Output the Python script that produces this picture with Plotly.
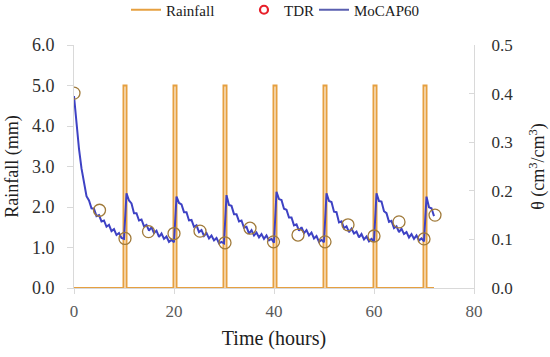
import plotly.graph_objects as go

# ---------------- data ----------------
step_h = 0.5
mocap60 = [
    0.395, 0.338, 0.286, 0.246, 0.217, 0.189, 0.180, 0.164, 0.163, 0.148,
    0.150, 0.137, 0.139, 0.126, 0.130, 0.117, 0.121, 0.109, 0.113, 0.103,
    0.101,
    0.195, 0.180, 0.174, 0.154, 0.154, 0.139, 0.141, 0.127, 0.130, 0.118,
    0.125, 0.113, 0.118, 0.105, 0.112, 0.101, 0.106, 0.095, 0.099,
    0.094,
    0.188, 0.175, 0.172, 0.156, 0.156, 0.139, 0.140, 0.126, 0.129, 0.115,
    0.119, 0.107, 0.113, 0.102, 0.108, 0.098, 0.103, 0.092, 0.095,
    0.092,
    0.191, 0.171, 0.169, 0.152, 0.152, 0.137, 0.139, 0.124, 0.126, 0.112,
    0.119, 0.108, 0.114, 0.104, 0.111, 0.101, 0.108, 0.098, 0.101,
    0.093,
    0.198, 0.183, 0.181, 0.163, 0.161, 0.145, 0.145, 0.129, 0.131, 0.118,
    0.125, 0.113, 0.119, 0.108, 0.114, 0.102, 0.107, 0.095, 0.099,
    0.094,
    0.195, 0.179, 0.177, 0.157, 0.156, 0.135, 0.137, 0.123, 0.127, 0.115,
    0.122, 0.112, 0.116, 0.104, 0.111, 0.100, 0.106, 0.096, 0.101,
    0.096,
    0.195, 0.179, 0.178, 0.158, 0.154, 0.136, 0.138, 0.123, 0.127, 0.115,
    0.122, 0.111, 0.115, 0.104, 0.111, 0.101, 0.108, 0.098, 0.102,
    0.096,
    0.188, 0.166, 0.164, 0.148,
]
mocap_time = [i * step_h for i in range(len(mocap60))]

tdr_time = [0, 5.1, 10.2, 14.9, 20, 25.2, 30.2, 35.2, 39.9, 44.8, 50.2, 54.8, 60, 65, 70, 72.2]
tdr_theta = [0.401, 0.160, 0.102, 0.116, 0.112, 0.117, 0.093, 0.123, 0.095, 0.109,
             0.095, 0.130, 0.107, 0.136, 0.101, 0.150]

rain_start = [9.9, 19.9, 29.9, 39.9, 49.9, 59.9, 69.9]
rain_duration = 0.6
rain_depth = 5.0
rain_end_time = 72

x_ticks = [0, 20, 40, 60, 80]
y_left_ticks = [0.0, 1.0, 2.0, 3.0, 4.0, 5.0, 6.0]
y_right_ticks = [0.0, 0.1, 0.2, 0.3, 0.4, 0.5]

# build rainfall step series
rain_x, rain_y = [0], [0]
for s in rain_start:
    rain_x += [s, s, s + rain_duration, s + rain_duration]
    rain_y += [0, rain_depth, rain_depth, 0]
rain_x.append(rain_end_time)
rain_y.append(0)

FONT = "Liberation Serif, Times New Roman, DejaVu Serif, serif"
AXIS_GREY = "#D9D9D9"

fig = go.Figure()
fig.add_trace(go.Scatter(x=rain_x, y=rain_y, mode="lines", name="Rainfall",
                         legend="legend", line=dict(color="#E6A040", width=2)))
fig.add_trace(go.Scatter(x=mocap_time, y=mocap60, mode="lines", name="MoCAP60",
                         yaxis="y2", line=dict(color="#3E42C4", width=2),
                         showlegend=False))
fig.add_trace(go.Scatter(x=tdr_time, y=tdr_theta, mode="markers", name="TDR",
                         yaxis="y2", showlegend=False,
                         marker=dict(symbol="circle-open", size=12,
                                     color="#A07A3A", line=dict(width=1.3, color="#A07A3A"))))
# legend entries
fig.add_trace(go.Scatter(x=[None], y=[None], mode="markers", name="TDR", legend="legend2",
                         marker=dict(symbol="circle-open", size=8, color="#E8202A",
                                     line=dict(width=2.2, color="#E8202A"))))
fig.add_trace(go.Scatter(x=[None], y=[None], mode="lines", name="MoCAP60", legend="legend3",
                         line=dict(color="#5A5FB0", width=2)))

leg_font = dict(family=FONT, size=15, color="#202020")
leg_common = dict(orientation="h", xanchor="left", y=1 - 10 / 357, yanchor="middle",
                  yref="container", bgcolor="rgba(0,0,0,0)", font=leg_font)

fig.update_layout(
    width=550, height=357,
    margin=dict(l=74, r=76, t=45, b=69, autoexpand=False),
    paper_bgcolor="white", plot_bgcolor="white",
    font=dict(family=FONT, size=16, color="#404040"),
    showlegend=True,
    legend=dict(x=0.13, **leg_common),
    legend2=dict(x=0.425, **leg_common),
    legend3=dict(x=0.60, **leg_common),
    xaxis=dict(range=[0, 80], tickvals=x_ticks, showgrid=False, zeroline=False,
               automargin=False,
               showline=True, linecolor=AXIS_GREY, linewidth=1,
               ticks="outside", ticklen=5, tickcolor=AXIS_GREY, ticklabelstandoff=3,
               tickfont=dict(family=FONT, size=17, color="#595959"),
               title=dict(text="Time (hours)", font=dict(family=FONT, size=20, color="#202020"), standoff=10)),
    yaxis=dict(range=[0, 6], tickvals=y_left_ticks, tickformat=".1f", showgrid=False,
               automargin=False,
               zeroline=False, showline=True, linecolor=AXIS_GREY, linewidth=1,
               ticks="outside", ticklen=6, tickcolor=AXIS_GREY, ticklabelstandoff=9,
               tickfont=dict(family=FONT, size=18, color="#303030"),
               title=dict(text="Rainfall (mm)", font=dict(family=FONT, size=18, color="#202020"), standoff=8)),
    yaxis2=dict(range=[0, 0.5], tickvals=y_right_ticks, tickformat=".1f", overlaying="y",
                automargin=False,
                side="right", showgrid=False, zeroline=False, showline=True,
                linecolor=AXIS_GREY, linewidth=1, ticks="inside", ticklen=5,
                ticklabelstandoff=13,
                tickcolor=AXIS_GREY, tickfont=dict(family=FONT, size=17, color="#303030"),
                title=dict(text="θ (cm<sup>3</sup>/cm<sup>3</sup>)",
                           font=dict(family=FONT, size=18, color="#202020"), standoff=19)),
)

fig.write_html("out.html", post_script="document.body.style.margin='0';",
               config={"displayModeBar": False})
